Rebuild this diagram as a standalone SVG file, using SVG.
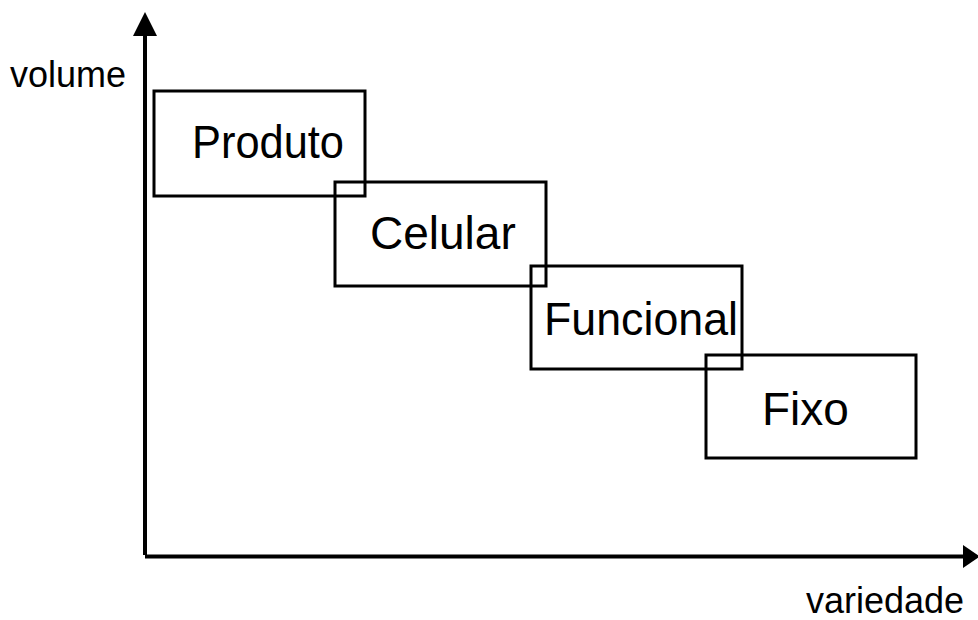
<svg xmlns="http://www.w3.org/2000/svg" width="978" height="620" viewBox="0 0 978 620">
<style>
.box{fill:none;stroke:#000;stroke-width:3}
.lbl{font-family:"Liberation Sans",Arial,sans-serif;font-size:46px;fill:#000}
.ax{font-family:"Liberation Sans",Arial,sans-serif;font-size:36px;fill:#000}
.axis{stroke:#000;stroke-width:4;fill:none}
</style>
<rect width="978" height="620" fill="#fff"/>
<g id="connectors">
<line class="axis" x1="145" y1="555" x2="145" y2="34"/>
<polygon points="145,12 133,36 157,36" fill="#000"/>
<line class="axis" x1="145" y1="556.5" x2="965" y2="556.5"/>
<polygon points="980,556.5 963,545 963,568" fill="#000"/>
</g>
<g id="produto">
<rect class="box" x="154" y="91" width="211" height="105"/>
<text class="lbl" x="192" y="158" textLength="152" lengthAdjust="spacingAndGlyphs">Produto</text>
</g>
<g id="celular">
<rect class="box" x="335" y="182" width="211" height="104"/>
<text class="lbl" x="370" y="249">Celular</text>
</g>
<g id="funcional">
<rect class="box" x="531" y="266" width="211" height="103"/>
<text class="lbl" x="544" y="335" textLength="194" lengthAdjust="spacingAndGlyphs">Funcional</text>
</g>
<g id="fixo">
<rect class="box" x="706" y="355" width="210" height="103"/>
<text class="lbl" x="762" y="425">Fixo</text>
</g>
<text class="ax" x="10" y="87">volume</text>
<text class="ax" x="806" y="613">variedade</text>
</svg>
